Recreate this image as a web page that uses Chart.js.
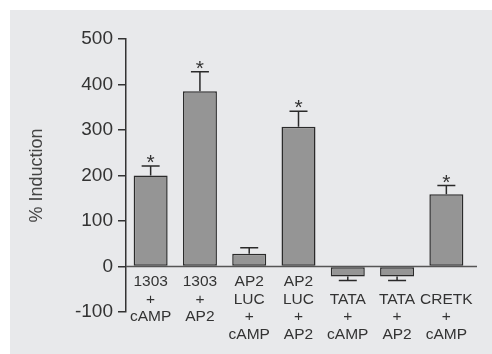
<!DOCTYPE html>
<html>
<head>
<meta charset="utf-8">
<script src="https://cdn.jsdelivr.net/npm/chart.js@4.4.1/dist/chart.umd.min.js"></script>
<style>
  html, body { margin: 0; padding: 0; background: #ffffff; }
  #wrap { position: relative; width: 492px; height: 354px; overflow: hidden; }
  #panel { position: absolute; left: 10px; top: 10px; width: 482px; height: 344px; background: #e8e9eb; }
  #c { position: absolute; left: 0; top: 0; }
</style>
</head>
<body>
<div id="wrap">
  <div id="panel"></div>
  <canvas id="c" width="492" height="354"></canvas>
</div>
<script>
// ---- data ----
const categories = [
  ['1303', '+', 'cAMP'],
  ['1303', '+', 'AP2'],
  ['AP2', 'LUC', '+', 'cAMP'],
  ['AP2', 'LUC', '+', 'AP2'],
  ['', 'TATA', '+', 'cAMP'],
  ['', 'TATA', '+', 'AP2'],
  ['', 'CRETK', '+', 'cAMP']
];
const induction = [200, 385, 28, 307, -22, -22, 159];
const errors = [21, 43, 13, 34, 9, 9, 19];
const significant = [true, true, false, true, false, false, true];
const yTicks = [-100, 0, 100, 200, 300, 400, 500];
const yTitle = '% Induction';

const FONT = "'Liberation Sans', Arial, Helvetica, sans-serif";

const extras = {
  id: 'extras',
  beforeDatasetsDraw(chart) {
    const { ctx, chartArea } = chart;
    const y0 = chart.scales.y.getPixelForValue(0);
    ctx.save();
    ctx.strokeStyle = '#555555';
    ctx.lineWidth = 1.5;
    ctx.beginPath();
    ctx.moveTo(chartArea.left, y0);
    ctx.lineTo(chartArea.right + 6, y0);
    ctx.stroke();
    ctx.restore();
  },
  afterDatasetsDraw(chart) {
    const { ctx } = chart;
    const ys = chart.scales.y;
    const meta = chart.getDatasetMeta(0);
    ctx.save();
    ctx.strokeStyle = '#2a2a2a';
    ctx.lineWidth = 1.5;
    meta.data.forEach((bar, i) => {
      const v = induction[i];
      const e = errors[i];
      const x = bar.x;
      const yStart = ys.getPixelForValue(v);
      const yEnd = ys.getPixelForValue(v >= 0 ? v + e : v - e);
      const cap = 9;
      ctx.beginPath();
      ctx.moveTo(x, yStart);
      ctx.lineTo(x, yEnd);
      ctx.moveTo(x - cap, yEnd);
      ctx.lineTo(x + cap, yEnd);
      ctx.stroke();
      if (significant[i]) {
        ctx.fillStyle = '#333333';
        ctx.font = '21px ' + FONT;
        ctx.textAlign = 'center';
        ctx.textBaseline = 'alphabetic';
        ctx.fillText('*', x, yEnd + 3);
      }
    });
    ctx.restore();
  }
};

new Chart(document.getElementById('c'), {
  type: 'bar',
  data: {
    labels: categories,
    datasets: [{
      data: induction,
      backgroundColor: '#959595',
      borderColor: '#2b2b2b',
      borderWidth: 1.5,
      borderSkipped: false,
      categoryPercentage: 1,
      barPercentage: 0.69
    }]
  },
  options: {
    responsive: false,
    devicePixelRatio: 1,
    animation: false,
    layout: { padding: { left: 0, top: 39, right: 21, bottom: 42 } },
    plugins: { legend: { display: false }, tooltip: { enabled: false } },
    scales: {
      x: {
        position: { y: 0 },
        grid: { display: false, drawTicks: false },
        border: { display: false },
        ticks: {
          autoSkip: false,
          maxRotation: 0,
          minRotation: 0,
          padding: 6,
          color: '#333333',
          font: { family: FONT, size: 15.5, lineHeight: 1.15 }
        }
      },
      y: {
        min: -100,
        max: 500,
        afterFit(scale) { scale.width = 126; },
        afterBuildTicks(scale) { scale.ticks = yTicks.map(v => ({ value: v })); },
        grid: { drawOnChartArea: false, drawTicks: true, tickLength: 8, color: '#333333', lineWidth: 1.5 },
        border: { display: true, color: '#333333', width: 1.5 },
        ticks: {
          padding: 5,
          color: '#333333',
          font: { family: FONT, size: 19 }
        },
        title: {
          display: true,
          text: yTitle,
          color: '#444444',
          padding: { top: 26, bottom: 0 },
          font: { family: FONT, size: 18 }
        }
      }
    }
  },
  plugins: [extras]
});
</script>
</body>
</html>
